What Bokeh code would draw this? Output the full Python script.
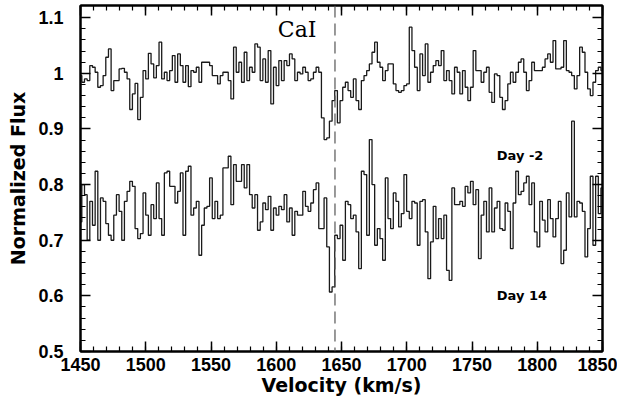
import numpy as np
from bokeh.plotting import figure
from bokeh.models import LinearAxis, Range1d, FixedTicker, Span
from bokeh.core.properties import value
from bokeh.embed import file_html
from bokeh.resources import INLINE

# Day -2 spectrum (normalized flux)
flux_day_m2 = [
    0.996, 0.984, 0.990, 0.987, 1.014, 1.011, 1.002, 0.975, 0.978, 0.996,
    1.029, 1.044, 0.969, 0.987, 0.987, 1.008, 1.009, 1.002, 0.990, 0.935,
    0.963, 0.982, 0.917, 0.957, 1.005, 0.990, 1.036, 1.017, 0.992, 1.014,
    1.056, 0.990, 1.002, 0.987, 1.005, 1.032, 0.984, 1.035, 1.014, 0.984,
    1.014, 0.976, 1.005, 1.002, 1.011, 0.984, 1.020, 1.020, 1.020, 1.014,
    0.996, 0.996, 0.981, 0.996, 1.002, 1.002, 0.987, 0.954, 1.047, 1.002,
    1.020, 0.984, 1.038, 0.987, 1.011, 1.002, 1.053, 1.047, 0.987, 1.026,
    0.984, 1.041, 0.945, 1.011, 0.978, 1.023, 0.987, 1.023, 1.014, 1.035,
    1.026, 0.987, 1.002, 0.999, 1.011, 1.002, 0.987, 0.990, 1.002, 1.011,
    1.002, 0.920, 0.881, 0.884, 0.914, 0.951, 0.969, 0.911, 0.951, 0.975,
    0.984, 0.969, 0.957, 0.990, 0.951, 0.935, 0.987, 0.996, 1.005, 1.017,
    1.038, 1.056, 1.020, 1.011, 0.987, 1.005, 1.017, 1.017, 0.981, 0.969,
    0.966, 0.969, 0.978, 0.981, 1.083, 1.041, 1.011, 0.969, 1.035, 0.996,
    1.053, 0.984, 1.002, 1.014, 1.023, 1.014, 1.041, 0.987, 1.005, 0.987,
    0.963, 1.011, 1.002, 0.963, 1.005, 0.975, 0.951, 0.975, 1.041, 1.005,
    1.005, 0.984, 1.002, 1.011, 0.966, 0.948, 0.999, 0.996, 0.957, 0.935,
    0.951, 0.981, 1.002, 0.984, 1.002, 1.020, 1.026, 1.002, 0.969, 0.987,
    1.020, 1.005, 1.005, 1.005, 1.011, 1.026, 1.035, 1.020, 1.059, 1.008,
    1.008, 1.011, 1.059, 1.005, 1.002, 0.996, 0.972, 0.996, 1.047, 1.038,
    1.002, 0.972, 0.960, 0.984, 1.005, 1.011, 1.005,
]

# Day 14 spectrum (normalized flux)
flux_day_14 = [
    0.733, 0.800, 0.782, 0.700, 0.770, 0.727, 0.824, 0.700, 0.776, 0.770,
    0.730, 0.709, 0.700, 0.745, 0.782, 0.752, 0.700, 0.770, 0.788, 0.806,
    0.797, 0.721, 0.703, 0.712, 0.785, 0.745, 0.709, 0.764, 0.739, 0.803,
    0.739, 0.709, 0.821, 0.824, 0.797, 0.797, 0.767, 0.788, 0.821, 0.709,
    0.824, 0.833, 0.745, 0.758, 0.770, 0.673, 0.727, 0.758, 0.761, 0.812,
    0.739, 0.770, 0.739, 0.745, 0.830, 0.830, 0.851, 0.764, 0.836, 0.806,
    0.806, 0.836, 0.794, 0.836, 0.782, 0.758, 0.782, 0.718, 0.733, 0.767,
    0.755, 0.779, 0.718, 0.758, 0.745, 0.761, 0.755, 0.782, 0.733, 0.758,
    0.709, 0.752, 0.745, 0.745, 0.788, 0.761, 0.752, 0.767, 0.791, 0.803,
    0.721, 0.721, 0.776, 0.688, 0.607, 0.616, 0.709, 0.703, 0.727, 0.664,
    0.770, 0.764, 0.739, 0.745, 0.715, 0.649, 0.824, 0.818, 0.709, 0.881,
    0.800, 0.691, 0.721, 0.703, 0.664, 0.812, 0.739, 0.721, 0.785, 0.770,
    0.724, 0.748, 0.818, 0.752, 0.739, 0.770, 0.767, 0.691, 0.770, 0.773,
    0.715, 0.631, 0.697, 0.761, 0.703, 0.739, 0.703, 0.745, 0.646, 0.628,
    0.794, 0.764, 0.764, 0.770, 0.761, 0.797, 0.785, 0.806, 0.764, 0.791,
    0.667, 0.745, 0.770, 0.715, 0.794, 0.715, 0.758, 0.770, 0.721, 0.718,
    0.767, 0.752, 0.685, 0.767, 0.824, 0.782, 0.788, 0.803, 0.815, 0.764,
    0.803, 0.715, 0.688, 0.770, 0.736, 0.715, 0.773, 0.739, 0.706, 0.739,
    0.770, 0.658, 0.682, 0.785, 0.742, 0.914, 0.742, 0.770, 0.767, 0.752,
    0.670, 0.721, 0.815, 0.691, 0.815, 0.748, 0.794,
]

v_start = 1450.0      # km/s, first bin centre
v_step = 2.04         # km/s per bin
line_velocity = 1645  # CaI marker

x_ticks = [1450, 1500, 1550, 1600, 1650, 1700, 1750, 1800, 1850]
y_ticks = [0.5, 0.6, 0.7, 0.8, 0.9, 1.0, 1.1]
y_tick_labels = {0.5: "0.5", 0.6: "0.6", 0.7: "0.7", 0.8: "0.8", 0.9: "0.9", 1.0: "1", 1.1: "1.1"}
x_title = "Velocity (km/s)"
y_title = "Normalized Flux"

labels = ["CaI", "Day -2", "Day 14"]
label_x = [1616, 1769, 1769]
label_y = [1.078, 0.853, 0.601]

vel_m2 = v_start + v_step * np.arange(len(flux_day_m2))
vel_14 = v_start + v_step * np.arange(len(flux_day_14))

p = figure(width=617, height=398, output_backend="svg", toolbar_location=None,
           x_range=Range1d(1450, 1850), y_range=Range1d(0.5, 1.122),
           min_border_left=80, min_border_right=15, min_border_top=5, min_border_bottom=47,
           x_axis_label=x_title, y_axis_label=y_title)
p.background_fill_color = "white"
p.border_fill_color = "white"
p.grid.visible = False
p.outline_line_color = "black"
p.outline_line_width = 2

tick_font = "Liberation Sans"
title_font = "DejaVu Sans"
x_minor = list(range(1450, 1851, 10))
y_minor = [round(0.5 + 0.02 * i, 2) for i in range(31)]

def style_axis(ax, show_labels):
    ax.axis_line_color = "black"
    ax.axis_line_width = 2
    ax.major_tick_in = 10
    ax.major_tick_out = 0
    ax.minor_tick_in = 5
    ax.minor_tick_out = 0
    ax.major_tick_line_width = 1.5
    ax.minor_tick_line_width = 1.2
    ax.major_tick_line_color = "black"
    ax.minor_tick_line_color = "black"
    if show_labels:
        ax.major_label_text_font = tick_font
        ax.major_label_text_font_style = "bold"
        ax.major_label_text_font_size = "18px"
        ax.major_label_text_color = "black"
        ax.axis_label_text_font = title_font
        ax.axis_label_text_font_style = "bold"
        ax.axis_label_text_font_size = "19px"
        ax.axis_label_text_color = "black"
    else:
        ax.major_label_text_font_size = "0px"
        ax.major_label_text_alpha = 0
        ax.major_label_standoff = 0
        ax.axis_label_standoff = 0

xb = p.xaxis[0]
xb.ticker = FixedTicker(ticks=x_ticks, minor_ticks=x_minor)
style_axis(xb, True)
xb.major_label_standoff = 6
xb.axis_label_standoff = 0

yl = p.yaxis[0]
yl.ticker = FixedTicker(ticks=y_ticks, minor_ticks=y_minor)
yl.major_label_overrides = y_tick_labels
style_axis(yl, True)
yl.major_label_standoff = 17
yl.axis_label_standoff = 6

xt = LinearAxis(ticker=FixedTicker(ticks=x_ticks, minor_ticks=x_minor))
style_axis(xt, False)
p.add_layout(xt, "above")
yr = LinearAxis(ticker=FixedTicker(ticks=y_ticks, minor_ticks=y_minor))
style_axis(yr, False)
p.add_layout(yr, "right")

p.step(vel_m2, flux_day_m2, mode="center", line_color="#1a1a1a", line_width=1.3)
p.step(vel_14, flux_day_14, mode="center", line_color="#1a1a1a", line_width=1.3)

p.add_layout(Span(location=line_velocity, dimension="height", line_color="#555555",
                  line_width=1.2, line_dash="12 6"))

p.text(x=[label_x[0]], y=[label_y[0]], text=[labels[0]], text_font=value("DejaVu Serif"),
       text_font_size="22px", text_align="center", text_baseline="middle", text_color="black")
p.text(x=label_x[1:], y=label_y[1:], text=labels[1:], text_font=value(title_font),
       text_font_style="bold", text_font_size="13px", text_align="left",
       text_baseline="middle", text_color="black")

open("out.html", "w").write(file_html(p, INLINE))
